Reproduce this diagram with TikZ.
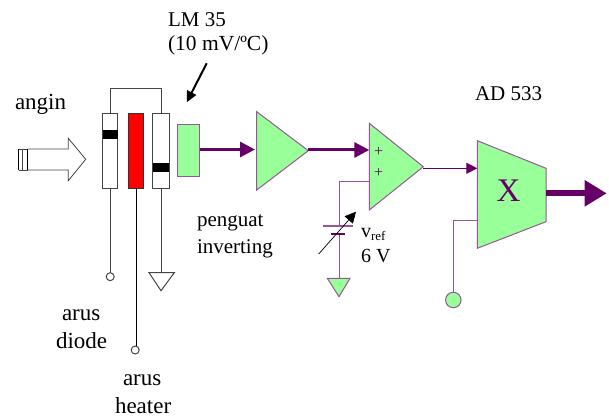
\documentclass[tikz,border=0pt]{standalone}
\usepackage{fontspec}
\setmainfont{Liberation Serif}
\usetikzlibrary{arrows.meta}
\definecolor{grn}{HTML}{99FF99}
\definecolor{pur}{HTML}{660066}
\definecolor{purl}{HTML}{995599}
\definecolor{wire}{HTML}{444444}
\tikzset{
  lbl/.style={anchor=base west,inner sep=0pt,outer sep=0pt,font=\fontsize{21}{24}\selectfont},
  lblb/.style={anchor=base west,inner sep=0pt,outer sep=0pt,font=\fontsize{23}{26}\selectfont},
  lbls/.style={anchor=base west,inner sep=0pt,outer sep=0pt,font=\fontsize{20}{24}\selectfont},
  sens/.style={draw=wire,line width=1pt,fill=white,inner sep=0pt,outer sep=0pt,minimum height=75pt},
  band/.style={fill=black,inner sep=0pt,outer sep=0pt,minimum height=9pt},
  lead/.style={draw=wire,line width=1pt},
  term/.style={draw=wire,line width=1pt,fill=white},
  gshape/.style={draw=purl,line width=1pt,fill=grn},
  pwire/.style={draw=purl,line width=1pt},
  parrow/.style={draw=pur,line width=3pt,-{Triangle[length=15pt,width=15pt]}},
}
\begin{document}
\begin{tikzpicture}[x=1pt,y=-1pt]
\useasboundingbox (0,0) rectangle (609,419);
\fill[white] (0,0) rectangle (609,419);
% text
\node[lbl] (tlm) at (168,27) {LM 35};
\node[lbl,font=\fontsize{21.5}{24}\selectfont] (tsens) at (168,51) {(10 mV/ºC)};
\node[lblb] (tangin) at (15,110) {angin};
\node[lbl] (tad) at (475,101) {AD 533};
\node[lbl] (tpeng) at (197,226) {penguat};
\node[lbl] (tinv) at (197,253) {inverting};
\node[lbls] (tvref) at (361,237) {v\raisebox{-3pt}{\fontsize{13}{15}\selectfont ref}};
\node[lbls] (tsix) at (361,262) {6 V};
\node[lblb] (tad1) at (62,320) {arus};
\node[lblb] (tad2) at (56,348) {diode};
\node[lblb] (the1) at (123,385) {arus};
\node[lblb] (the2) at (115,413) {heater};
% sensors
\node[sens,minimum width=15pt] (s1) at (110.2,150.8) {};
\node[sens,minimum width=15pt,fill=red,draw=black!80] (s2) at (136,150.8) {};
\node[sens,minimum width=16.5pt] (s3) at (161,150.8) {};
\node[band,minimum width=15pt] (b1) at (110.2,134.5) {};
\node[band,minimum width=16.5pt] (b3) at (161,167.2) {};
\draw[lead] (s1.north) -- ++(0,-24.6) -| (s3.north);
% leads
\coordinate (c1) at (110.2,276.7);
\coordinate (c2) at (135.2,350);
\coordinate (g1) at (161,272.7);
\draw[lead] (s1.south) -- (110.2,273);
\draw[draw=black,line width=1pt] (s2.south) -- (136,346);
\draw[lead] (s3.south) -- (g1);
\node[term,circle,inner sep=0pt,minimum size=8pt] (t1) at (c1) {};
\node[term,circle,inner sep=0pt,minimum size=8pt] (t2) at (c2) {};
\draw[term,line join=miter] (149,272.7) -- (174.3,272.7) -- (161,290.7) -- cycle;
% wind arrow
\draw[draw=wire,line width=.8pt,fill=white] (27.5,149) -- (68.3,149) -- (68.3,138.3) -- (85.7,159.3) -- (68.3,180.7) -- (68.3,170) -- (27.5,170);
\draw[black,line width=1.6pt] (18.5,149) -- (18.5,170);
\draw[wire,line width=.8pt] (18.5,149) -- (27.5,149) (18.5,170) -- (27.5,170) (22,149) -- (22,170);
\draw[black,line width=1.6pt] (27.5,149) -- (27.5,170);
% pointer arrow
\coordinate (pa) at (206.7,63.3);
\coordinate (pb) at (186.7,102.3);
\draw[line width=2pt,-{Triangle[length=11pt,width=10pt]}] (pa) -- (pb);
% green box
\node[gshape,minimum width=22.7pt,minimum height=52.7pt,inner sep=0pt,outer sep=0pt] (box) at (188.6,150.4) {};
% triangle amp
\draw[gshape,line join=miter] (256.7,111.7) coordinate (a1) -- (308.3,150.7) coordinate (a1o) -- (256.7,190) -- cycle;
\coordinate (a1i) at (255,149.5);
\draw[parrow] (box.east |- a1i) -- (a1i);
% op amp
\draw[gshape,line join=miter] (369.3,123.3) -- (423.3,166.7) coordinate (a2o) -- (369.3,210) -- cycle;
\coordinate (a2p) at (369.3,150);
\coordinate (a2n) at (369.3,181.7);
\draw[parrow] (a1o |- a2p) -- (a2p);
\node[text=pur,inner sep=0pt,font=\fontsize{16}{16}\selectfont] (p1) at (378.7,152) {+};
\node[text=pur,inner sep=0pt,font=\fontsize{16}{16}\selectfont] (p2) at (378.7,172.7) {+};
% vref
\coordinate (bat1) at (339,226);
\coordinate (bat2) at (339,234);
\coordinate (gnd) at (339,278.3);
\draw[pwire] (a2n) -| (bat1);
\draw[pwire] (bat2) -- (gnd);
\draw[draw=purl,line width=1.3pt] (323.3,226) -- (353.3,226);
\draw[draw=pur,line width=1.3pt] (330.7,234) -- (345.3,234);
\draw[gshape,line join=miter] (327.3,278.3) -- (350,278.3) -- (339,296.7) -- cycle;
\coordinate (va) at (318.7,254);
\coordinate (vb) at (356,211.7);
\draw[line width=.7pt,-{Triangle[length=11pt,width=11pt]}] (va) -- (vb);
% multiplier
\draw[gshape,line join=miter] (477.3,140.7) -- (546,168.3) -- (546,221.7) -- (477.3,248.3) -- cycle;
\node[text=pur,inner sep=0pt,font=\fontsize{33}{33}\selectfont] (x) at (508.5,190.5) {X};
\coordinate (m1) at (477.3,168.3);
\coordinate (m2) at (477.3,220.7);
\coordinate (mo) at (546,193.3);
\coordinate (oend) at (606.7,193.3);
\draw[draw=pur,line width=1pt,-{Triangle[length=11pt,width=11pt]}] (a2o |- m1) -- (m1);
\node[gshape,circle,inner sep=0pt,minimum size=15.5pt,outer sep=0pt] (knob) at (453.3,300) {};
\draw[pwire] (m2) -| (knob.north);
\draw[draw=pur,line width=6pt,-{Triangle[length=22pt,width=25pt,sep=0pt]}] (mo) -- (oend);
\end{tikzpicture}
\end{document}
